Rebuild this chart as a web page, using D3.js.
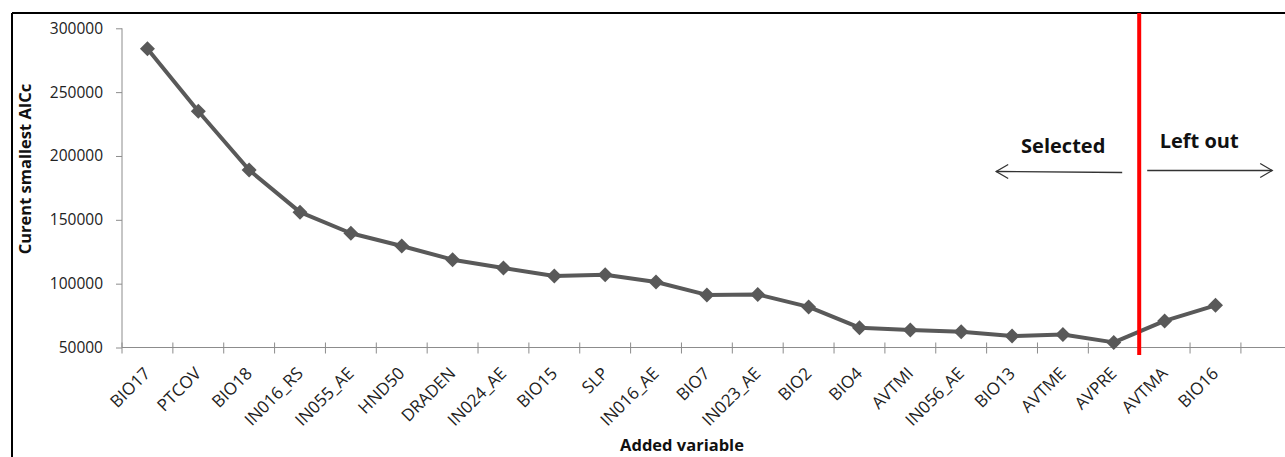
<!DOCTYPE html>
<html><head><meta charset="utf-8">
<script src="https://cdn.jsdelivr.net/npm/d3@7"></script>
<style>
html,body{margin:0;padding:0;background:#fff;}
svg{display:block;font-family:"Open Sans",sans-serif;}
</style></head>
<body><svg id="c" width="1285" height="457"></svg>
<script>
const categories = ["BIO17","PTCOV","BIO18","IN016_RS","IN055_AE","HND50","DRADEN","IN024_AE","BIO15","SLP","IN016_AE","BIO7","IN023_AE","BIO2","BIO4","AVTMI","IN056_AE","BIO13","AVTME","AVPRE","AVTMA","BIO16"];
const aicc = [284000,235000,189000,156000,139500,129500,118800,112300,106000,107000,101300,91200,91500,81800,65500,63800,62300,59000,60200,54000,70800,83000];
const yTicks = [50000,100000,150000,200000,250000,300000];
const cutoff = "AVTMA";
const yTitle = "Curent smallest AICc";
const xTitle = "Added variable";
const leftLabel = "Selected";
const rightLabel = "Left out";

const svg = d3.select("#c");
const W = 1285, H = 457;
const x0 = 122, step = 50.86;
const x = d3.scaleBand().domain(categories).range([x0, x0 + step*categories.length]).paddingInner(0).paddingOuter(0);
const y = d3.scaleLinear().domain([50000,300000]).range([347.5, 28.3]);

// frame
svg.append("line").attr("x1",12).attr("x2",W).attr("y1",13).attr("y2",13).attr("stroke","#000").attr("stroke-width",2);
svg.append("line").attr("x1",12).attr("x2",12).attr("y1",13).attr("y2",H).attr("stroke","#000").attr("stroke-width",2);

const axisCol = "#8c8c8c";
// y axis
const ya = svg.append("g").attr("transform",`translate(${x0},0)`)
  .call(d3.axisLeft(y).tickValues(yTicks).tickFormat(d3.format("d")).tickSize(6).tickPadding(13));
ya.select(".domain").attr("stroke",axisCol).attr("d",`M0,${y(300000)}V${y(50000)}`);
ya.selectAll(".tick line").attr("stroke",axisCol);
ya.selectAll(".tick text").attr("font-size","15.5px").attr("fill","#222").attr("font-family","Open Sans");

// x axis line
const yBase = y(50000);
svg.append("line").attr("x1",x0).attr("x2",W).attr("y1",yBase).attr("y2",yBase).attr("stroke",axisCol);
const bounds = categories.map(c => x(c)).concat([x.range()[1]]);
svg.selectAll(".xt").data(bounds).enter().append("line")
  .attr("x1",d=>d).attr("x2",d=>d).attr("y1",yBase-5).attr("y2",yBase+6).attr("stroke",axisCol);
svg.selectAll(".xl").data(categories).enter().append("text")
  .attr("transform",d=>`translate(${x(d)+x.bandwidth()/2+4},${yBase+27}) rotate(-45)`)
  .attr("text-anchor","end").attr("font-size","17px").attr("fill","#222")
  .text(d=>d);

// titles
svg.append("text").attr("transform",`translate(31,169) rotate(-90)`).attr("text-anchor","middle")
  .attr("font-weight","bold").attr("font-size","16.5px").attr("fill","#111").text(yTitle);
svg.append("text").attr("x",682).attr("y",451).attr("text-anchor","middle")
  .attr("font-weight","bold").attr("font-size","16.5px").attr("fill","#111").text(xTitle);

// line + markers
const cx = d => x(d) + x.bandwidth()/2;
const pts = categories.map((c,i)=>[cx(c), y(aicc[i])]);
svg.append("path").attr("d", d3.line()(pts)).attr("fill","none").attr("stroke","#595959").attr("stroke-width",4).attr("stroke-linejoin","round");
svg.selectAll(".m").data(pts).enter().append("path")
  .attr("transform",d=>`translate(${d[0]},${d[1]})`)
  .attr("d","M0,-7.5L7.5,0L0,7.5L-7.5,0Z").attr("fill","#595959");

// cutoff red line
const xc = x(cutoff);
svg.append("line").attr("x1",xc).attr("x2",xc).attr("y1",13).attr("y2",355).attr("stroke","#ff0000").attr("stroke-width",4);

// arrows
const ac = "#333";
svg.append("line").attr("x1",xc-17).attr("y1",172.5).attr("x2",xc-143).attr("y2",171.5).attr("stroke",ac).attr("stroke-width",1.3);
svg.append("path").attr("d",`M${xc-131},${164.5}L${xc-143},${171.5}L${xc-131},${178.5}`).attr("fill","none").attr("stroke",ac).attr("stroke-width",1.3);
svg.append("line").attr("x1",xc+8).attr("y1",170.5).attr("x2",xc+133).attr("y2",170.5).attr("stroke",ac).attr("stroke-width",1.3);
svg.append("path").attr("d",`M${xc+121},${163.5}L${xc+133},${170.5}L${xc+121},${177.5}`).attr("fill","none").attr("stroke",ac).attr("stroke-width",1.3);

svg.append("text").attr("x",xc-76).attr("y",153).attr("text-anchor","middle").attr("font-weight","bold").attr("font-size","20px").attr("fill","#111").text(leftLabel);
svg.append("text").attr("x",xc+60).attr("y",148).attr("text-anchor","middle").attr("font-weight","bold").attr("font-size","20px").attr("fill","#111").text(rightLabel);
</script></body></html>
